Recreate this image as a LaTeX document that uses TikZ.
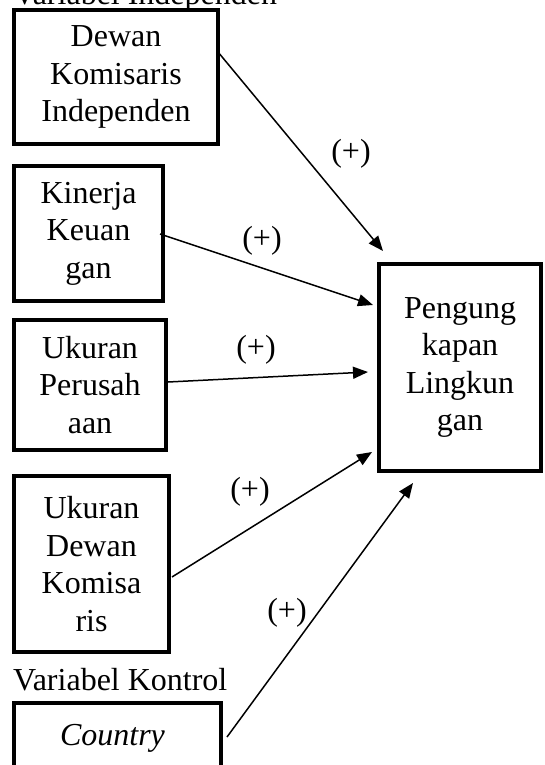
\documentclass[tikz,border=0pt]{standalone}
\usepackage{fontspec}
\setmainfont{Liberation Serif}
\usetikzlibrary{arrows.meta}
\begin{document}
\begin{tikzpicture}[x=1pt,y=-1pt,
  every node/.style={font=\fontsize{32}{37.5}\selectfont},
  varbox/.style={draw, line width=3.6pt, align=center, inner sep=0pt},
  conn/.style={line width=1.5pt, -{Triangle[length=15pt,width=12pt]}},
  sign/.style={inner sep=0pt},
  heading/.style={anchor=base west, inner sep=0pt}]
\useasboundingbox (0,0) rectangle (544,765);
\node[heading] (t1) at (13,5) {Variabel Independen};
\node[varbox, minimum width=204pt, minimum height=134pt] (dki) at (116,77) {Dewan\\Komisaris\\Independen};
\node[varbox, minimum width=149pt, minimum height=135pt] (kk) at (88.5,233.5) {Kinerja\\Keuan\\gan};
\node[varbox, minimum width=152pt, minimum height=130pt] (up) at (90,385) {Ukuran\\Perusah\\aan};
\node[varbox, minimum width=155pt, minimum height=176pt] (udk) at (91.5,564) {Ukuran\\Dewan\\Komisa\\ris};
\node[heading] (t2) at (13,690) {Variabel Kontrol};
\node[varbox, minimum width=207pt, minimum height=85pt, text height=21pt, text depth=22pt] (cty) at (117.5,745.5) {\textit{Country}\hspace*{10pt}};
\node[varbox, minimum width=162pt, minimum height=207pt] (pl) at (460,367.5) {Pengung\\kapan\\Lingkun\\gan};
\coordinate (s1) at (218,52);  \coordinate (e1) at (383,251);
\coordinate (s2) at (160,234); \coordinate (e2) at (373,305);
\coordinate (s3) at (168,382); \coordinate (e3) at (368,372);
\coordinate (s4) at (172,577); \coordinate (e4) at (372,452);
\coordinate (s5) at (227,737); \coordinate (e5) at (413,483);
\draw[conn] (s1) -- (e1);
\draw[conn] (s2) -- (e2);
\draw[conn] (s3) -- (e3);
\draw[conn] (s4) -- (e4);
\draw[conn] (s5) -- (e5);
\node[sign] (p1) at (351,154) {(+)};
\node[sign] (p2) at (262,241) {(+)};
\node[sign] (p3) at (256,350) {(+)};
\node[sign] (p4) at (250,492) {(+)};
\node[sign] (p5) at (287,613) {(+)};
\end{tikzpicture}
\end{document}
